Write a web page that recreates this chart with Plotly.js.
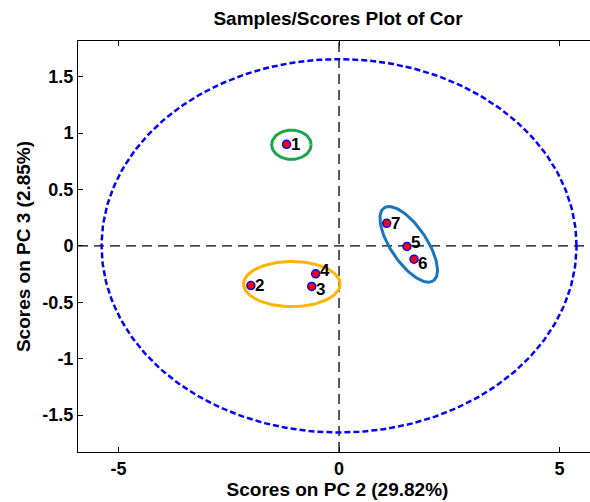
<!DOCTYPE html>
<html>
<head>
<meta charset="utf-8">
<script src="https://cdn.plot.ly/plotly-3.0.1.min.js"></script>
<style>html,body{margin:0;padding:0;background:#fff;overflow:hidden}</style>
</head>
<body>
<div id="chart"></div>
<script>
// Sample scores
const sampleLabels = ["1","2","3","4","5","6","7"];
const pc2Scores = [-1.19, -2.00, -0.62, -0.53, 1.54, 1.70, 1.08];
const pc3Scores = [0.90, -0.352, -0.36, -0.248, -0.006, -0.118, 0.20];

// 95% confidence ellipse (semi-axes in data units)
const confSemiX = 5.385;
const confSemiY = 1.655;

// Group ellipses: center x, center y, semi x, semi y (data units), colour
const groupCx = [-1.08, -1.07];
const groupCy = [0.896, -0.339];
const groupRx = [0.447, 1.095];
const groupRy = [0.13, 0.20];
const groupColors = ["#1aa64a", "#ffb400"];

// tilted group ellipse (around 5,6,7)
const tiltCenter = [1.58, 0.013];
const tiltColor = "#1b75bc";

const xTicks = [-5, 0, 5];
const yTicks = [-1.5, -1, -0.5, 0, 0.5, 1, 1.5];

const pxX = 44.1, pxY = 112.8; // px per unit, for drawing the tilted ellipse visually

function ellipsePts(cx, cy, rx, ry, n) {
  const xs = [], ys = [];
  for (let i = 0; i <= n; i++) {
    const t = 2 * Math.PI * i / n;
    xs.push(cx + rx * Math.cos(t));
    ys.push(cy + ry * Math.sin(t));
  }
  return [xs, ys];
}
function tiltedPts(cx, cy, aPx, bPx, angDeg, n) {
  const xs = [], ys = [];
  const th = angDeg * Math.PI / 180;
  for (let i = 0; i <= n; i++) {
    const t = 2 * Math.PI * i / n;
    const u = aPx * Math.cos(t), v = bPx * Math.sin(t);
    const dx = u * Math.cos(th) - v * Math.sin(th);
    const dy = u * Math.sin(th) + v * Math.cos(th); // pixel down
    xs.push(cx + dx / pxX);
    ys.push(cy - dy / pxY);
  }
  return [xs, ys];
}

const traces = [];
const [cxs, cys] = ellipsePts(0, 0, confSemiX, confSemiY, 300);
traces.push({x: cxs, y: cys, mode: 'lines', line: {color: '#0000ff', width: 2.5, dash: '6px,3px'}, hoverinfo: 'skip'});
for (let g = 0; g < groupCx.length; g++) {
  const [gx, gy] = ellipsePts(groupCx[g], groupCy[g], groupRx[g], groupRy[g], 120);
  traces.push({x: gx, y: gy, mode: 'lines', line: {color: groupColors[g], width: 3}, hoverinfo: 'skip'});
}
const [tx, ty] = tiltedPts(tiltCenter[0], tiltCenter[1], 44, 18, 56, 120);
traces.push({x: tx, y: ty, mode: 'lines', line: {color: tiltColor, width: 3}, hoverinfo: 'skip'});

traces.push({
  x: pc2Scores, y: pc3Scores, mode: 'markers',
  marker: {color: '#ff0000', size: 8, line: {color: '#0000ff', width: 1.5}}
});

const FAM = 'Liberation Sans, Arial, sans-serif';
const labelShiftY = {"3": -3, "4": 3, "5": 4, "6": -4};
const annotations = sampleLabels.map((t, i) => ({
  x: pc2Scores[i], y: pc3Scores[i], xref: 'x', yref: 'y',
  text: '<b>' + t + '</b>', showarrow: false, xanchor: 'left', yanchor: 'middle',
  xshift: 2, yshift: labelShiftY[t] || 0,
  font: {family: FAM, size: 17, color: '#000'}
}));

const fontT = {family: FAM, size: 19, color: '#000'};
const fontTick = {family: FAM, size: 18, color: '#000'};
const layout = {
  width: 600, height: 502,
  margin: {l: 78, r: 3, t: 41, b: 50},
  paper_bgcolor: '#fff', plot_bgcolor: '#fff',
  showlegend: false,
  title: {text: '<b>Samples/Scores Plot of Cor</b>', x: 338/600, xanchor: 'center', y: 1 - 18/502, yanchor: 'middle', font: fontT},
  xaxis: {
    range: [-5.92, 5.85], tickvals: xTicks, ticktext: xTicks.map(v => '<b>' + v + '</b>'),
    ticks: 'inside', ticklen: 5, tickcolor: '#000', mirror: 'ticks', showline: true, linecolor: '#000', linewidth: 1,
    showgrid: false, zeroline: false, tickfont: fontTick,
    title: {text: '<b>Scores on PC 2 (29.82%)</b>', font: fontT, standoff: 0}
  },
  yaxis: {
    range: [-1.828, 1.816], tickvals: yTicks, ticktext: yTicks.map(v => '<b>' + v + '</b>'),
    ticks: 'inside', ticklen: 5, tickcolor: '#000', mirror: 'ticks', showline: true, linecolor: '#000', linewidth: 1,
    showgrid: false, zeroline: false, tickfont: fontTick,
    title: {text: '<b>Scores on PC 3 (2.85%)</b>', font: fontT, standoff: 6}
  },
  annotations: annotations,
  shapes: [
    {type: 'line', xref: 'x', yref: 'paper', x0: 0, x1: 0, y0: 0, y1: 1, line: {color: '#000', width: 1.3, dash: '10px,6px'}, layer: 'below'},
    {type: 'line', xref: 'paper', yref: 'y', x0: 0, x1: 1, y0: 0, y1: 0, line: {color: '#000', width: 1.3, dash: '10px,6px'}, layer: 'below'}
  ]
};
Plotly.newPlot('chart', traces, layout, {displayModeBar: false, staticPlot: true});
</script>
</body>
</html>
